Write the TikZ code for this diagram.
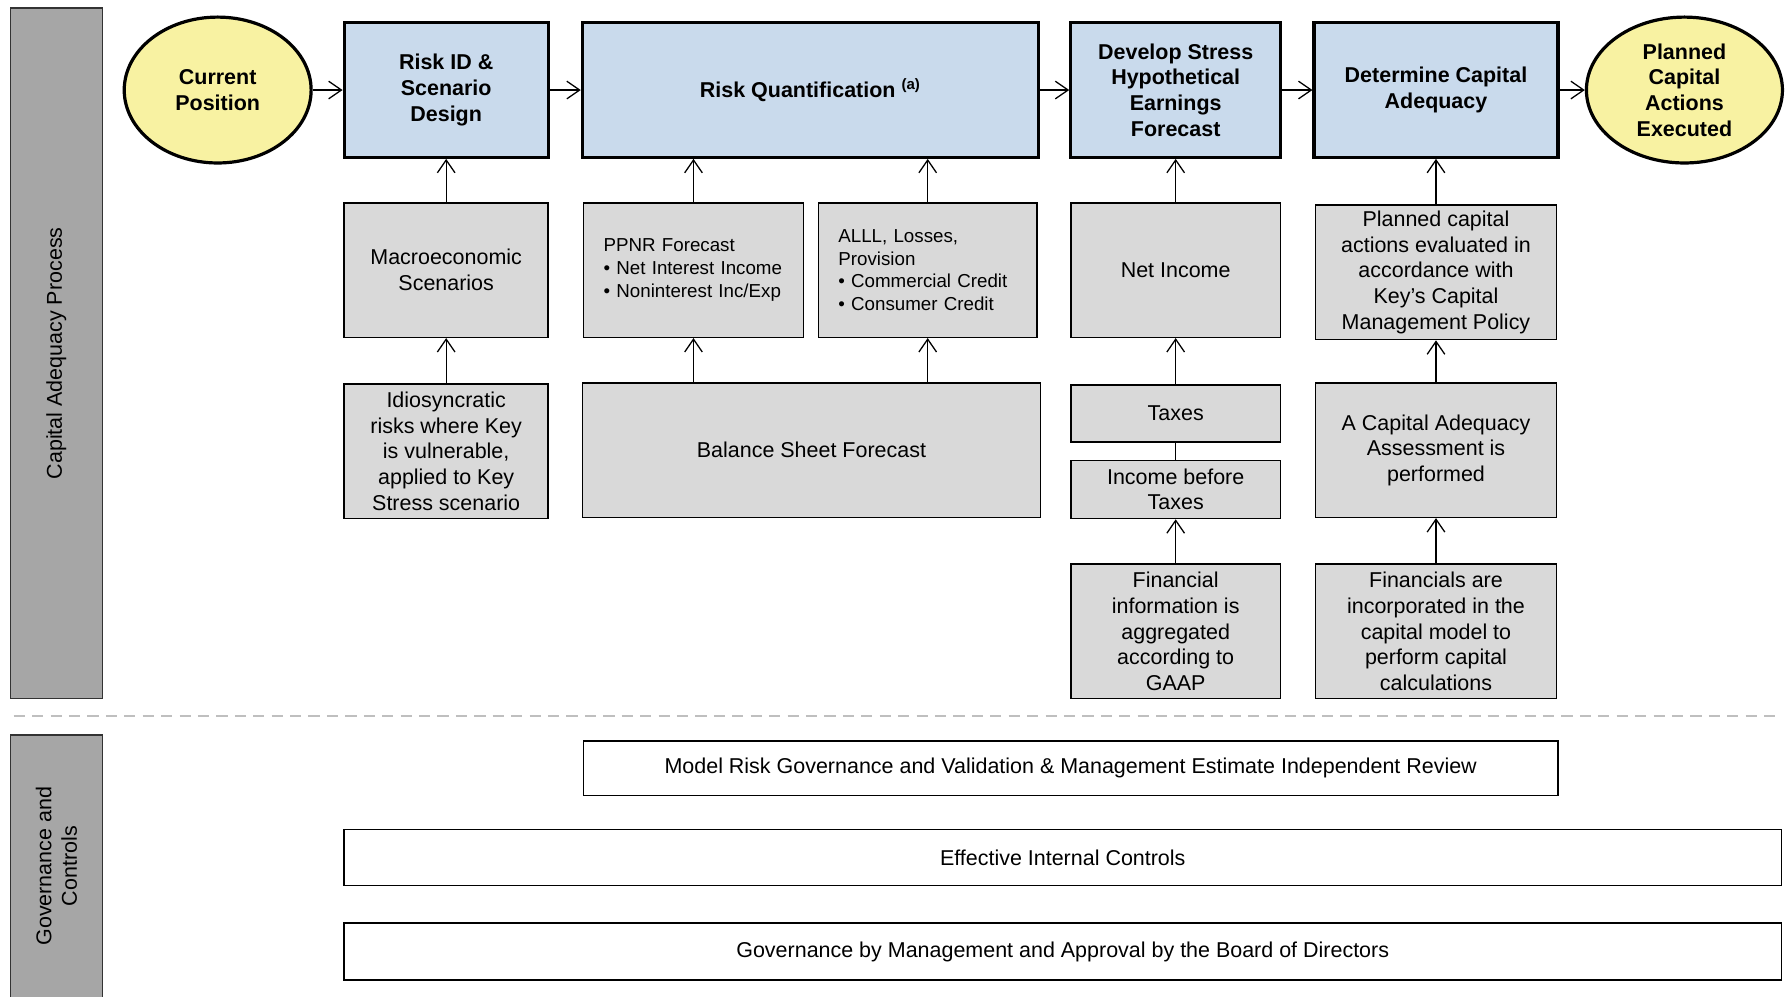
\documentclass[tikz,border=0pt]{standalone}
\usepackage{fontspec}
\setmainfont{Liberation Sans}
\usetikzlibrary{shapes.geometric,arrows.meta}
\definecolor{headblue}{HTML}{C9DAEC}
\definecolor{endyellow}{HTML}{F8F2A2}
\definecolor{boxgray}{HTML}{D9D9D9}
\definecolor{bargray}{HTML}{A6A6A6}
\definecolor{dashgray}{HTML}{BFBFBF}
\newcommand{\mainsize}{\fontsize{13.4}{16}\selectfont}
\newcommand{\listsize}{\fontsize{11.7}{14.2}\selectfont}
\tikzset{
  every node/.style={inner sep=0pt, align=center, font=\mainsize},
  endpoint/.style={ellipse, draw, line width=2pt, fill=endyellow, font=\mainsize\bfseries},
  stage/.style={rectangle, draw, line width=2pt, fill=headblue, font=\mainsize\bfseries},
  input/.style={rectangle, draw, line width=0.9pt, fill=boxgray},
  listbox/.style={input, align=left, font=\listsize, inner xsep=0.44cm},
  control/.style={rectangle, draw, line width=0.9pt, fill=white},
  sidebar/.style={rectangle, draw=black!80, line width=0.8pt, fill=bargray, rotate=90},
  flow/.style={-{Straight Barb[length=8pt,width=11pt]}, line width=0.8pt}
}
\begin{document}
\begin{tikzpicture}
  \useasboundingbox (0,0) rectangle (39.2,-21.85);
  \draw
    (1.2375,-7.75) node[sidebar, minimum width=15.15cm, minimum height=2.025cm] (procbar){Capital Adequacy Process}
    (1.2375,-19.0) node[sidebar, minimum width=5.75cm, minimum height=2.025cm] (govbar){Governance and\\Controls}
    (4.775,-1.975) node[endpoint, minimum width=4.1cm, minimum height=3.2cm] (current){Current\\Position}
    (9.7875,-1.975) node[stage, minimum width=4.475cm, minimum height=2.95cm] (riskid){Risk ID \&\\Scenario\\Design}
    (17.775,-1.975) node[stage, minimum width=10cm, minimum height=2.95cm] (quant){Risk Quantification \textsuperscript{(a)}}
    (25.79,-1.975) node[stage, minimum width=4.6cm, minimum height=2.95cm] (stress){Develop Stress\\Hypothetical\\Earnings\\Forecast}
    (31.5,-1.975) node[stage, minimum width=5.35cm, minimum height=2.95cm] (capital){Determine Capital\\Adequacy}
    (36.95,-1.975) node[endpoint, minimum width=4.3cm, minimum height=3.2cm] (planned){Planned\\Capital\\Actions\\Executed}
    (9.7875,-5.925) node[input, minimum width=4.475cm, minimum height=2.95cm] (macro){Macroeconomic\\Scenarios}
    (15.2125,-5.925) node[listbox, text width=3.945cm, minimum height=2.95cm] (ppnr){PPNR Forecast\\\textbullet\ Net Interest Income\\\textbullet\ Noninterest Inc/Exp}
    (20.35,-5.925) node[listbox, text width=3.92cm, minimum height=2.95cm] (alll){ALLL, Losses,\\Provision\\\textbullet\ Commercial Credit\\\textbullet\ Consumer Credit}
    (25.79,-5.925) node[input, minimum width=4.6cm, minimum height=2.95cm] (netinc){Net Income}
    (31.5,-5.975) node[input, minimum width=5.275cm, minimum height=2.95cm] (policy){Planned capital\\actions evaluated in\\accordance with\\Key’s Capital\\Management Policy}
    (9.7875,-9.9) node[input, minimum width=4.475cm, minimum height=2.95cm] (idio){Idiosyncratic\\risks where Key\\is vulnerable,\\applied to Key\\Stress scenario}
    (17.8,-9.875) node[input, minimum width=10.05cm, minimum height=2.95cm] (balance){Balance Sheet Forecast}
    (25.79,-9.075) node[input, minimum width=4.6cm, minimum height=1.25cm] (taxes){Taxes}
    (25.79,-10.7375) node[input, minimum width=4.6cm, minimum height=1.275cm] (pretax){Income before\\Taxes}
    (31.5,-9.875) node[input, minimum width=5.275cm, minimum height=2.95cm] (assess){A Capital Adequacy\\Assessment is\\performed}
    (25.79,-13.85) node[input, minimum width=4.6cm, minimum height=2.95cm] (gaap){Financial\\information is\\aggregated\\according to\\GAAP}
    (31.5,-13.85) node[input, minimum width=5.275cm, minimum height=2.95cm] (model){Financials are\\incorporated in the\\capital model to\\perform capital\\calculations}
    (23.4875,-16.85) node[control, minimum width=21.375cm, minimum height=1.2cm] (review){Model Risk Governance and Validation \& Management Estimate Independent Review}
    (23.3125,-18.8125) node[control, minimum width=31.525cm, minimum height=1.225cm] (controls){Effective Internal Controls}
    (23.3125,-20.875) node[control, minimum width=31.525cm, minimum height=1.25cm] (board){Governance by Management and Approval by the Board of Directors};
  \coordinate (dashstart) at (0.3,-15.7);
  \coordinate (dashend) at (39.0,-15.7);
  \draw[dashgray, line width=1.2pt, dash pattern=on 7pt off 4.5pt] (dashstart) -- (dashend);
  \begin{scope}[flow]
    \draw (current) to (riskid);
    \draw (riskid) to (quant);
    \draw (quant) to (stress);
    \draw (stress) to (capital);
    \draw (capital) to (planned);
    \draw (macro) to (riskid);
    \draw (idio) to (macro);
    \draw (ppnr.north) to (ppnr.north |- quant.south);
    \draw (alll.north) to (alll.north |- quant.south);
    \draw (ppnr.south |- balance.north) to (ppnr.south);
    \draw (alll.south |- balance.north) to (alll.south);
    \draw (netinc) to (stress);
    \draw (taxes) to (netinc);
    \draw (gaap) to (pretax);
    \draw (policy) to (capital);
    \draw (assess) to (policy);
    \draw (model) to (assess);
  \end{scope}
  \draw[line width=0.8pt] (pretax) to (taxes);
\end{tikzpicture}
\end{document}
